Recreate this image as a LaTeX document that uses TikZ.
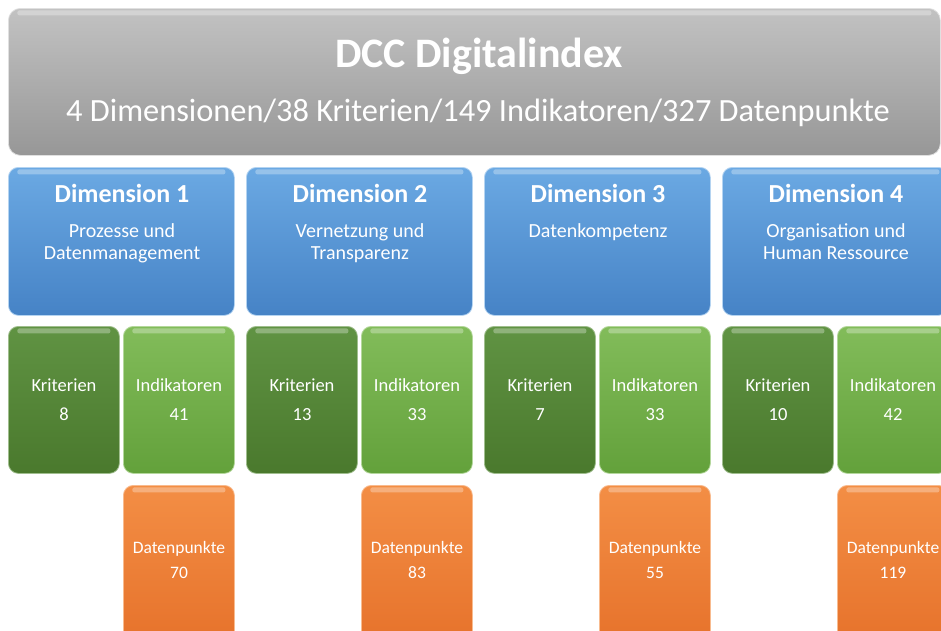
\documentclass[tikz,border=0pt]{standalone}
\usepackage{fontspec}
\setmainfont{Carlito}
\usepackage{xcolor}
\usepackage{tikz}
\usetikzlibrary{positioning,calc}

\definecolor{hdrtop}{HTML}{C2C2C2}
\definecolor{hdrbot}{HTML}{979797}
\definecolor{dimtop}{HTML}{6BA9E3}
\definecolor{dimbot}{HTML}{4683C6}
\definecolor{kritop}{HTML}{609343}
\definecolor{kribot}{HTML}{4A792D}
\definecolor{indtop}{HTML}{82BC5A}
\definecolor{indbot}{HTML}{63A13B}
\definecolor{dattop}{HTML}{F38E45}
\definecolor{datbot}{HTML}{E6722B}

\tikzset{
    tile/.style={rounded corners=10pt, inner sep=0pt, line width=0.8pt, anchor=north west,
        path picture={\fill[white,opacity=0.3,rounded corners=2pt]
            ([xshift=9pt,yshift=-2pt]path picture bounding box.north west) rectangle
            ([xshift=-9pt,yshift=-7pt]path picture bounding box.north east);}},
    hdrbox/.style={tile, top color=hdrtop, bottom color=hdrbot, draw=hdrtop!50!white,
        minimum width=932pt, minimum height=147pt, rounded corners=12pt},
    dimbox/.style={tile, top color=dimtop, bottom color=dimbot, draw=dimtop!50!white,
        minimum width=226pt, minimum height=148pt},
    kribox/.style={tile, top color=kritop, bottom color=kribot, draw=kritop!60!white,
        minimum width=111pt, minimum height=147pt},
    indbox/.style={tile, top color=indtop, bottom color=indbot, draw=indtop!60!white,
        minimum width=111pt, minimum height=147pt},
    datbox/.style={tile, top color=dattop, bottom color=datbot, draw=dattop!60!white,
        minimum width=111pt, minimum height=160pt},
    txt/.style={text=white, anchor=base, inner sep=0pt},
    hdrtitle/.style={txt, font=\fontsize{42}{50}\selectfont\bfseries},
    hdrsub/.style={txt, font=\fontsize{32.4}{38}\selectfont},
    dimtitle/.style={txt, font=\fontsize{26}{31}\selectfont\bfseries},
    dimsub/.style={txt, font=\fontsize{20}{24}\selectfont},
    cnt/.style={txt, font=\fontsize{18.5}{22}\selectfont},
    dpt/.style={txt, font=\fontsize{17.5}{21}\selectfont}
}

\begin{document}
\begin{tikzpicture}[x=1pt, y=-1pt]
    \useasboundingbox (0,0) rectangle (941,630);
    \clip (0,0) rectangle (941,630);

    % Header
    \node[hdrbox] (hdr) at (8,8) {};
    \node[hdrtitle] (hdrt) at (479,67) {DCC Digitalindex};
    \node[hdrsub] (hdrs) at (478,121) {4 Dimensionen/38 Kriterien/149 Indikatoren/327 Datenpunkte};

    % Dimensions with their counts
    \foreach \i/\la/\lb/\kri/\ind/\dat in {
        1/{Prozesse und}/{Datenmanagement}/8/41/70,
        2/{Vernetzung und}/{Transparenz}/13/33/83,
        3/{Datenkompetenz}/{}/7/33/55,
        4/{Organisation und}/{Human Ressource}/10/42/119} {
        \pgfmathsetmacro{\xo}{8+238*(\i-1)}

        % Dimension
        \node[dimbox] (dim\i) at (\xo,167) {};
        \node[dimtitle] (dimt\i) at (\xo+114,202) {Dimension \i};
        \node[dimsub] (dima\i) at (\xo+114,237) {\la};
        \node[dimsub] (dimb\i) at (\xo+114,259) {\lb};

        % Kriterien
        \node[kribox] (kri\i) at (\xo,326) {};
        \node[cnt] (krit\i) at (\xo+56,391) {Kriterien};
        \node[cnt] (krin\i) at (\xo+56,420) {\kri};

        % Indikatoren
        \node[indbox] (ind\i) at (\xo+115,326) {};
        \node[cnt] (indt\i) at (\xo+171,391) {Indikatoren};
        \node[cnt] (indn\i) at (\xo+171,420) {\ind};

        % Datenpunkte
        \node[datbox] (dat\i) at (\xo+115,485) {};
        \node[dpt] (datt\i) at (\xo+171,553) {Datenpunkte};
        \node[dpt] (datn\i) at (\xo+171,578) {\dat};
    }
\end{tikzpicture}
\end{document}
